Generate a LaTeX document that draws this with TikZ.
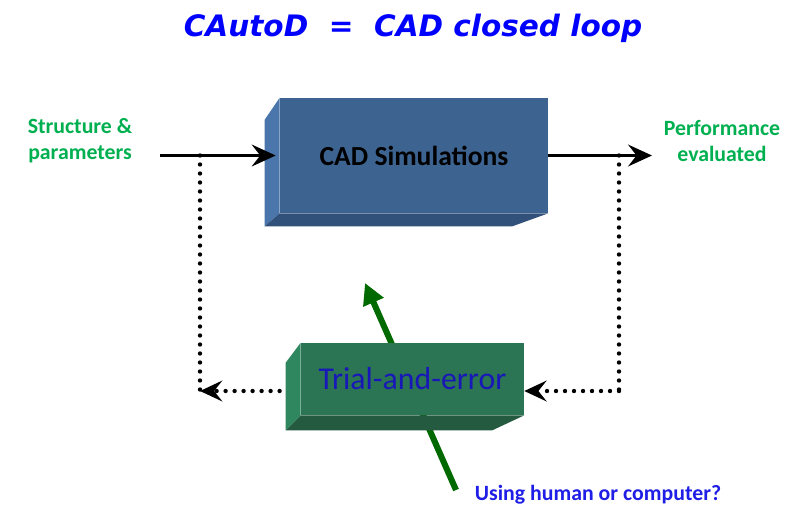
\documentclass[tikz,border=0pt]{standalone}
\usepackage{fontspec}
\setmainfont{Carlito}
\newfontfamily\titlefont{DejaVu Sans}
\usetikzlibrary{arrows.meta,positioning,calc}

\definecolor{simFront}{RGB}{61,99,145}
\definecolor{simSide}{RGB}{74,118,172}
\definecolor{simBottom}{RGB}{50,81,122}
\definecolor{trialFront}{RGB}{43,116,84}
\definecolor{trialSide}{RGB}{47,135,95}
\definecolor{trialBottom}{RGB}{35,90,64}
\definecolor{labelGreen}{RGB}{0,176,80}
\definecolor{titleBlue}{RGB}{0,0,255}
\definecolor{askBlue}{RGB}{30,30,230}
\definecolor{arrowGreen}{RGB}{0,105,0}

\begin{document}
\begin{tikzpicture}[
    x=0.025cm,y=-0.025cm,
    face/.style={draw=none,inner sep=0pt},
    label/.style={align=center,font=\bfseries\fontsize{15.5}{18.5}\selectfont,text=labelGreen},
    flow/.style={-{Stealth[length=17pt,width=15.5pt,inset=6pt]},line width=2.1pt,black},
    back/.style={line width=3.1pt,line cap=round,dash pattern=on 0pt off 6.4pt,black},
    backtip/.style={back,-{Stealth[length=16pt,width=15pt,inset=6pt,line width=0pt]}}
]
\useasboundingbox (0,0) rectangle (800,516);
% title
\node (title) at (413,28) {\titlefont\bfseries\itshape\fontsize{21}{25}\selectfont\color{titleBlue}CAutoD\ \ =\ \ CAD closed loop};
% side labels
\node[label] (inlab) at (80,141) {Structure \&\\parameters};
\node[label] (outlab) at (722,141) {Performance\\evaluated};
% green arrow (behind the trial box)
\coordinate (humS) at (456,490);
\coordinate (humT) at (365,283);
\draw[arrowGreen,line width=4.3pt,-{Triangle[length=15pt,width=15pt]}] (humS) -- (humT);
% CAD box
\node[face,fill=simFront,minimum width=6.7cm,minimum height=2.875cm] (sim) at (414,155.5) {};
\fill[simSide] ($(sim.north west)+(-15,22)$) -- (sim.north west) -- (sim.south west) -- ($(sim.south west)+(-15,13)$) -- cycle;
\fill[simBottom] (sim.south west) -- (sim.south east) -- ($(sim.south east)+(-36,13)$) -- ($(sim.south west)+(-15,13)$) -- cycle;
\node[font=\bfseries\fontsize{19.6}{23}\selectfont] at (sim) {CAD Simulations};
% trial box
\node[face,fill=trialFront,minimum width=5.575cm,minimum height=1.8cm] (trial) at (412.5,379) {};
\fill[trialSide] ($(trial.north west)+(-15,20)$) -- (trial.north west) -- (trial.south west) -- ($(trial.south west)+(-15,15)$) -- cycle;
\fill[trialBottom] (trial.south west) -- (trial.south east) -- ($(trial.south east)+(-32,15)$) -- ($(trial.south west)+(-15,15)$) -- cycle;
\node[font=\fontsize{22.6}{26}\selectfont,text=askBlue!80!black] at (trial) {Trial-and-error};
% main flow
\coordinate (inS) at (160,155.5);
\coordinate (outE) at (652,155.5);
\draw[flow] (inS) -- ([xshift=-0.1cm]sim.west);
\draw[flow] (sim.east) -- (outE);
% feedback loop
\coordinate (tapL) at (200,155.5);
\coordinate (cornerL) at (200,391);
\coordinate (tapR) at (619,155.5);
\coordinate (cornerR) at (619,391);
\draw[back] (tapL) -- (cornerL);
\draw[backtip] ([xshift=-15]trial.west |- cornerL) -- (cornerL);
\draw[back] (tapR) -- (cornerR);
\draw[backtip] (cornerR) -- (trial.east |- cornerR);
% question
\node[font=\bfseries\fontsize{15.5}{18}\selectfont,text=askBlue] (ask) at (598,495) {Using human or computer?};
\end{tikzpicture}
\end{document}
